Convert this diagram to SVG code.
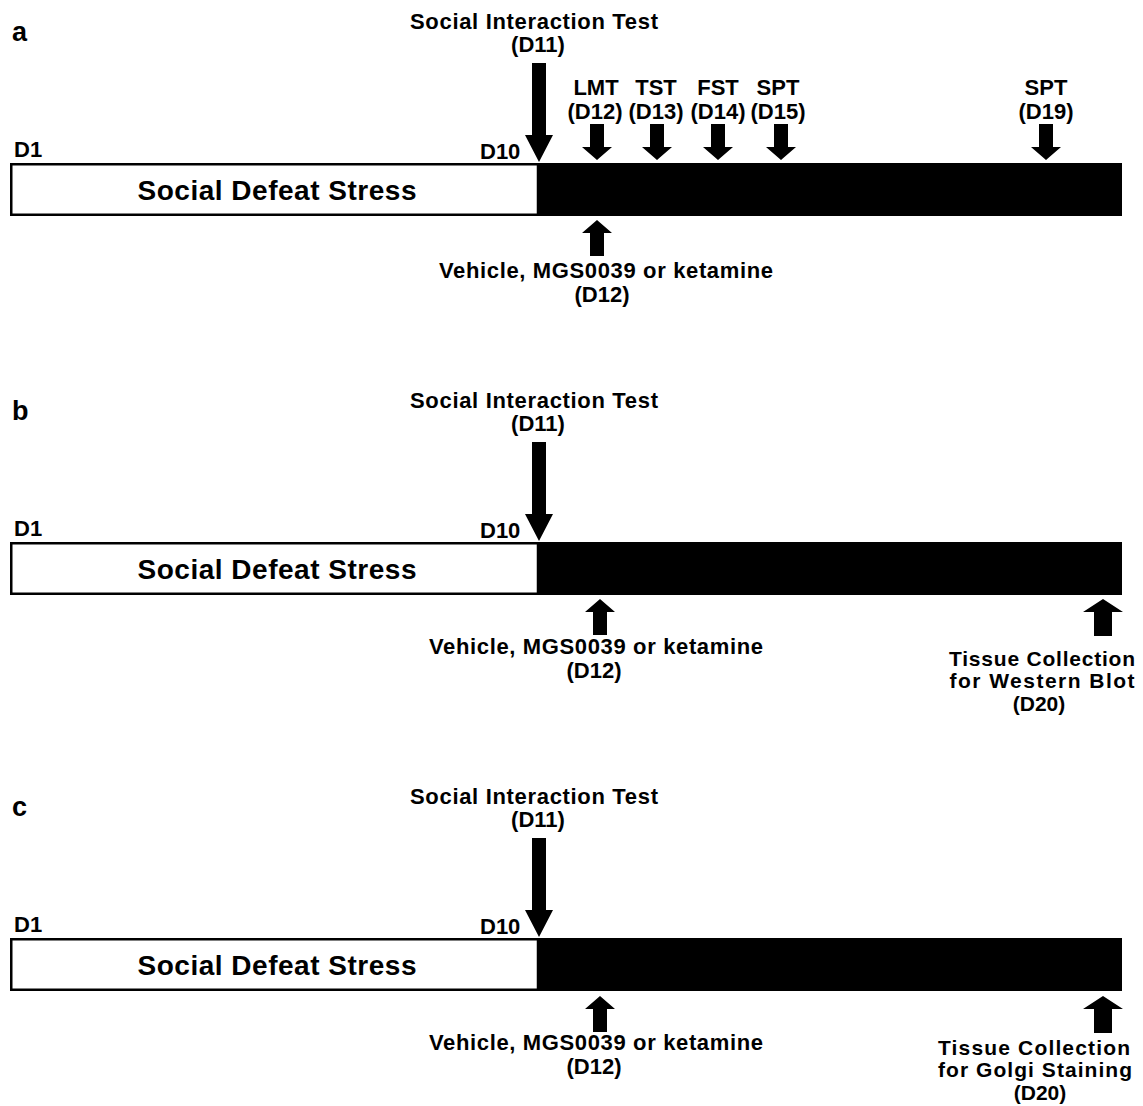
<svg xmlns="http://www.w3.org/2000/svg" xmlns:xlink="http://www.w3.org/1999/xlink" width="1143" height="1106" viewBox="0 0 1143 1106">
<style>
text{font-family:"Liberation Sans",Arial,sans-serif;font-weight:bold;fill:#000}
.l{font-size:22px;text-anchor:middle}
.t{font-size:21px;text-anchor:middle}
.s{font-size:22px}
.big{font-size:28px;text-anchor:middle}
.p{font-size:27px}
.dark{fill:#000}
.white{fill:#fff;stroke:#000;stroke-width:2.5}
.arr{fill:#000}
</style>
<defs>
<path id="bigDown" d="M-7,0 H7 V72 H14 L0,99 L-14,72 H-7 Z"/>
<path id="smDown" d="M-7,0 H7 V23 H15 L0,36 L-15,23 H-7 Z"/>
<path id="up" d="M0,0 L15,13 H7 V36 H-7 V13 H-15 Z"/>
<path id="upBig" d="M0,0 L20,13 H9 V37 H-9 V13 H-20 Z"/>
</defs>

<!-- Panel a -->
<g id="panel-a">
<text class="p" x="12" y="41">a</text>
<g id="a-bar">
<rect class="dark" x="10" y="163" width="1112" height="53"/>
<rect class="white" x="11.25" y="164.25" width="526.75" height="50.5"/>
<text class="big" x="277" y="200" textLength="279" lengthAdjust="spacing">Social Defeat Stress</text>
</g>
<text class="s" x="14" y="157">D1</text>
<text class="s" x="480" y="159">D10</text>
<g id="a-sit"><text class="l" x="534" y="29" textLength="248" lengthAdjust="spacing">Social Interaction Test</text><text class="l" x="538" y="52">(D11)</text></g>
<g id="a-lmt"><text class="l" x="596" y="95">LMT</text><text class="l" x="595" y="119">(D12)</text></g>
<g id="a-tst"><text class="l" x="656" y="95">TST</text><text class="l" x="656" y="119">(D13)</text></g>
<g id="a-fst"><text class="l" x="718" y="95">FST</text><text class="l" x="718" y="119">(D14)</text></g>
<g id="a-spt15"><text class="l" x="778" y="95">SPT</text><text class="l" x="778" y="119">(D15)</text></g>
<g id="a-spt19"><text class="l" x="1046" y="95">SPT</text><text class="l" x="1046" y="119">(D19)</text></g>
<g id="a-drug"><text class="l" x="606" y="278" textLength="334" lengthAdjust="spacing">Vehicle, MGS0039 or ketamine</text><text class="l" x="602" y="302">(D12)</text></g>
</g>

<!-- Panel b -->
<g id="panel-b" transform="translate(0,379)">
<text class="p" x="12" y="41">b</text>
<g id="b-bar">
<rect class="dark" x="10" y="163" width="1112" height="53"/>
<rect class="white" x="11.25" y="164.25" width="526.75" height="50.5"/>
<text class="big" x="277" y="200" textLength="279" lengthAdjust="spacing">Social Defeat Stress</text>
</g>
<text class="s" x="14" y="157">D1</text>
<text class="s" x="480" y="159">D10</text>
<g id="b-sit"><text class="l" x="534" y="29" textLength="248" lengthAdjust="spacing">Social Interaction Test</text><text class="l" x="538" y="52">(D11)</text></g>
<g id="b-drug"><text class="l" x="596" y="275" textLength="334" lengthAdjust="spacing">Vehicle, MGS0039 or ketamine</text><text class="l" x="594" y="299">(D12)</text></g>
<g id="b-tissue"><text class="t" x="1042" y="287" textLength="186" lengthAdjust="spacing">Tissue Collection</text><text class="t" x="1042" y="309" textLength="185" lengthAdjust="spacing">for Western Blot</text><text class="t" x="1039" y="332">(D20)</text></g>
</g>

<!-- Panel c -->
<g id="panel-c" transform="translate(0,775)">
<text class="p" x="12" y="41">c</text>
<g id="c-bar">
<rect class="dark" x="10" y="163" width="1112" height="53"/>
<rect class="white" x="11.25" y="164.25" width="526.75" height="50.5"/>
<text class="big" x="277" y="200" textLength="279" lengthAdjust="spacing">Social Defeat Stress</text>
</g>
<text class="s" x="14" y="157">D1</text>
<text class="s" x="480" y="159">D10</text>
<g id="c-sit"><text class="l" x="534" y="29" textLength="248" lengthAdjust="spacing">Social Interaction Test</text><text class="l" x="538" y="52">(D11)</text></g>
<g id="c-drug"><text class="l" x="596" y="275" textLength="334" lengthAdjust="spacing">Vehicle, MGS0039 or ketamine</text><text class="l" x="594" y="299">(D12)</text></g>
<g id="c-tissue"><text class="t" x="1034" y="280" textLength="192" lengthAdjust="spacing">Tissue Collection</text><text class="t" x="1035" y="302" textLength="194" lengthAdjust="spacing">for Golgi Staining</text><text class="t" x="1040" y="325">(D20)</text></g>
</g>

<!-- Connectors (arrows) -->
<g id="connectors" class="arr">
<use xlink:href="#bigDown" x="539" y="63"/>
<use xlink:href="#smDown" x="597" y="124"/>
<use xlink:href="#smDown" x="657" y="124"/>
<use xlink:href="#smDown" x="718" y="124"/>
<use xlink:href="#smDown" x="781" y="124"/>
<use xlink:href="#smDown" x="1046" y="124"/>
<use xlink:href="#up" x="597" y="220"/>

<use xlink:href="#bigDown" x="539" y="442"/>
<use xlink:href="#up" x="600" y="599"/>
<use xlink:href="#upBig" x="1103" y="599"/>

<use xlink:href="#bigDown" x="539" y="838"/>
<use xlink:href="#up" x="600" y="996"/>
<use xlink:href="#upBig" x="1103" y="996"/>
</g>
</svg>
